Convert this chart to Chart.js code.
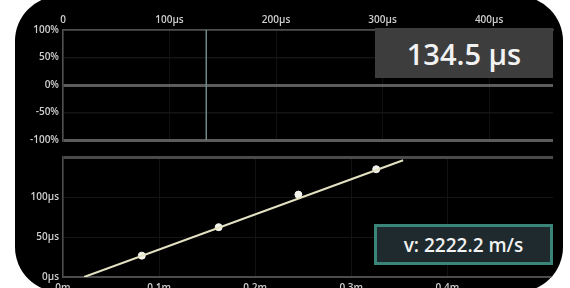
<!DOCTYPE html>
<html>
<head>
<meta charset="utf-8">
<script src="https://cdn.jsdelivr.net/npm/chart.js@4"></script>
<style>
  html, body { margin: 0; padding: 0; background: #fff; width: 570px; height: 288px; overflow: hidden; }
  #frame { position: absolute; left: 15px; top: -4px; width: 548px; height: 296px; border-radius: 45px; overflow: hidden; background: #000; }
  #stage { position: absolute; left: -15px; top: 4px; width: 570px; height: 288px; }
  canvas { position: absolute; left: 0; }
  #scope { top: 0; }
  #fit { top: 145px; }
  .readout { position: absolute; color: #f2f2f2; font-family: "Open Sans", sans-serif; font-weight: 600; display: flex; align-items: center; justify-content: center; box-sizing: border-box; }
  #delay { left: 375px; top: 28px; width: 178px; height: 50px; background: #3d3d3d; font-size: 29px; }
  #speed { left: 374px; top: 224px; width: 179px; height: 41px; background: #1e2a2e; border: 3px solid #3a8479; font-size: 19px; }
</style>
</head>
<body>
<div id="frame"><div id="stage">
  <canvas id="scope" width="570" height="150"></canvas>
  <canvas id="fit" width="570" height="145"></canvas>
  <div id="delay" class="readout">134.5 µs</div>
  <div id="speed" class="readout">v: 2222.2 m/s</div>
</div></div>
<script>
'use strict';

// top panel: time axis (µs) and signal level (%)
const timeTicks = [0, 100, 200, 300, 400];
const levelTicks = [-100, -50, 0, 50, 100];
const cursorTime = 134.5;

// bottom panel: sensor distance (m) vs arrival delay (µs)
const distanceTicks = [0, 0.1, 0.2, 0.3, 0.4];
const delayTicks = [0, 50, 100, 150];
const distances = [0.082, 0.162, 0.245, 0.326];
const arrivalTimes = [26.7, 62.3, 103, 134.7];
const fitDistances = [0.022, 0.354];
const fitTimes = [0, 146];

const tickFont = { family: 'Open Sans', size: 10, weight: '600' };
const tickColor = '#cfcfcf';

(function drawScope() {
  const canvas = document.getElementById('scope');
  new Chart(canvas.getContext('2d'), {
    type: 'scatter',
    data: {
      datasets: [
        {
          data: [{ x: cursorTime, y: levelTicks[0] }, { x: cursorTime, y: levelTicks[levelTicks.length - 1] }],
          showLine: true,
          borderColor: '#6f8a88',
          borderWidth: 1.5,
          pointRadius: 0
        }
      ]
    },
    options: {
      responsive: false,
      animation: false,
      layout: { padding: { left: 0, right: 17, top: 0, bottom: 2 } },
      plugins: { legend: { display: false }, tooltip: { enabled: false } },
      scales: {
        x: {
          type: 'linear',
          position: 'top',
          min: 0,
          max: 460,
          afterBuildTicks: scale => { scale.ticks = timeTicks.map(value => ({ value })); },
          afterFit: scale => { scale.height = 30; },
          ticks: {
            color: tickColor,
            font: tickFont,
            padding: 4,
            callback: value => (value === 0 ? '0' : `${value}µs`)
          },
          grid: { color: '#121212', drawTicks: false },
          border: { color: '#505050', width: 1.5 }
        },
        y: {
          min: -100,
          max: 100,
          afterBuildTicks: scale => { scale.ticks = levelTicks.map(value => ({ value })); },
          afterFit: scale => { scale.width = 63; },
          ticks: {
            color: tickColor,
            font: tickFont,
            padding: 4,
            callback: value => `${value}%`
          },
          grid: {
            drawTicks: false,
            color: ctx => (ctx.tick && (ctx.tick.value === 0 || ctx.tick.value === -100) ? '#5c5c5c'
              : ctx.tick && ctx.tick.value === 100 ? '#4a4a4a' : '#151515'),
            lineWidth: ctx => (ctx.tick && (ctx.tick.value === 0 || ctx.tick.value === -100) ? 3 : 1.5)
          },
          border: { color: '#505050', width: 1.5 }
        }
      }
    }
  });
})();

(function drawFit() {
  const canvas = document.getElementById('fit');
  new Chart(canvas.getContext('2d'), {
    type: 'scatter',
    data: {
      datasets: [
        {
          data: fitDistances.map((d, i) => ({ x: d, y: fitTimes[i] })),
          showLine: true,
          borderColor: '#e4e2c2',
          borderWidth: 2,
          pointRadius: 0
        },
        {
          data: distances.map((d, i) => ({ x: d, y: arrivalTimes[i] })),
          showLine: false,
          pointRadius: 3.5,
          pointBackgroundColor: '#f4f4ee',
          pointBorderColor: '#f4f4ee'
        }
      ]
    },
    options: {
      responsive: false,
      animation: false,
      layout: { padding: { left: 0, right: 17, top: 12, bottom: 0 } },
      plugins: { legend: { display: false }, tooltip: { enabled: false } },
      scales: {
        x: {
          type: 'linear',
          min: 0,
          max: 0.51,
          afterBuildTicks: scale => { scale.ticks = distanceTicks.map(value => ({ value })); },
          afterFit: scale => { scale.height = 13; },
          ticks: {
            color: tickColor,
            font: tickFont,
            padding: 5,
            callback: value => `${value}m`
          },
          grid: { color: '#121212', drawTicks: false },
          border: { color: '#4c4c4c', width: 2 }
        },
        y: {
          min: 0,
          max: 150,
          afterBuildTicks: scale => { scale.ticks = delayTicks.map(value => ({ value })); },
          afterFit: scale => { scale.width = 63; },
          ticks: {
            color: tickColor,
            font: tickFont,
            padding: 4,
            callback: value => (value === 150 ? '' : `${value}µs`)
          },
          grid: {
            drawTicks: false,
            color: ctx => (ctx.tick && ctx.tick.value === 150 ? '#4a4a4a' : '#151515'),
            lineWidth: ctx => (ctx.tick && ctx.tick.value === 150 ? 3 : 1)
          },
          border: { color: '#4c4c4c', width: 1.5 }
        }
      }
    }
  });
})();
</script>
</body>
</html>
